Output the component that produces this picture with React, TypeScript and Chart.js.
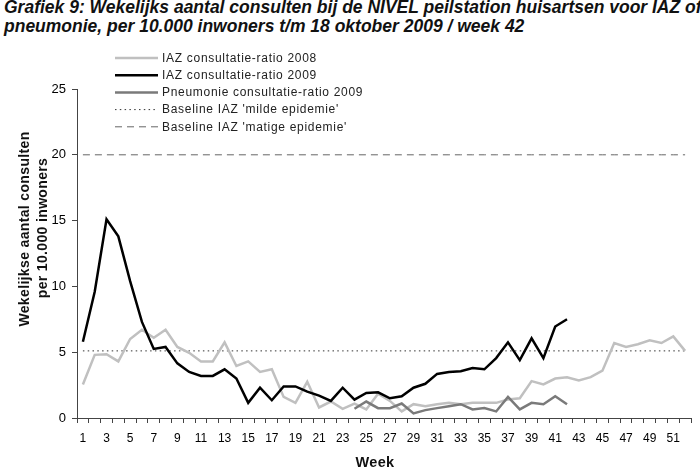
import { useEffect, useRef } from "react";
import { Chart, registerables } from "chart.js";

Chart.register(...registerables);

// weeks 1..52
const weeks = [
  "1", "2", "3", "4", "5", "6", "7", "8", "9", "10", "11", "12", "13",
  "14", "15", "16", "17", "18", "19", "20", "21", "22", "23", "24", "25", "26",
  "27", "28", "29", "30", "31", "32", "33", "34", "35", "36", "37", "38", "39",
  "40", "41", "42", "43", "44", "45", "46", "47", "48", "49", "50", "51", "52",
];

const iaz2008 = [
  2.55, 4.8, 4.85, 4.3, 6.0, 6.7, 6.1, 6.7, 5.4, 4.95, 4.3, 4.3, 5.75,
  3.95, 4.3, 3.5, 3.7, 1.6, 1.15, 2.75, 0.8, 1.25, 0.7, 1.1, 0.65, 1.85,
  1.3, 0.5, 1.05, 0.9, 1.05, 1.15, 1.05, 1.15, 1.15, 1.15, 1.4, 1.5, 2.8,
  2.55, 3.0, 3.1, 2.85, 3.1, 3.6, 5.7, 5.4, 5.6, 5.9, 5.7, 6.2, 5.1,
];

const iaz2009 = [
  5.8, 9.6, 15.1, 13.8, 10.4, 7.3, 5.25, 5.4, 4.15, 3.5, 3.2, 3.2, 3.7,
  3.0, 1.15, 2.3, 1.35, 2.4, 2.4, 2.0, 1.7, 1.3, 2.3, 1.4, 1.9, 1.95,
  1.5, 1.65, 2.3, 2.6, 3.35, 3.5, 3.55, 3.8, 3.7, 4.55, 5.75, 4.4, 6.05,
  4.55, 6.95, 7.5,
];

// pneumonie starts at week 24
const pneu2009 = [
  null, null, null, null, null, null, null, null, null, null, null, null, null,
  null, null, null, null, null, null, null, null, null, null, 0.7, 1.25, 0.75,
  0.75, 1.1, 0.35, 0.6, 0.75, 0.9, 1.05, 0.65, 0.75, 0.5, 1.6, 0.65, 1.15,
  1.05, 1.65, 1.05,
];

const baselineMild = 5.1;
const baselineMatig = 20;

const yTicks = [0, 5, 10, 15, 20, 25];

const labels = [
  "IAZ consultatie-ratio 2008",
  "IAZ consultatie-ratio 2009",
  "Pneumonie consultatie-ratio 2009",
  "Baseline IAZ 'milde epidemie'",
  "Baseline IAZ 'matige epidemie'",
];

const FONT = "'Liberation Sans', Arial, sans-serif";

// legend + axis titles drawn by hand, the original has a free-floating legend
const extras = {
  id: "extras",
  afterDraw(chart: any) {
    const ctx = chart.ctx;
    ctx.save();
    chart.data.datasets.forEach((ds: any, i: number) => {
      const y = 58 + i * 17.2;
      ctx.strokeStyle = ds.borderColor;
      ctx.lineWidth = ds.borderWidth;
      ctx.setLineDash(ds.borderDash || []);
      ctx.beginPath();
      ctx.moveTo(115, y);
      ctx.lineTo(158, y);
      ctx.stroke();
      ctx.setLineDash([]);
      ctx.fillStyle = "#222";
      ctx.font = `12px ${FONT}`;
      ctx.letterSpacing = "0.7px";
      ctx.textAlign = "left";
      ctx.textBaseline = "middle";
      ctx.fillText(ds.label, 162, y + 0.5);
    });

    ctx.fillStyle = "#111";
    ctx.font = `bold 14px ${FONT}`;
    ctx.letterSpacing = "0.35px";
    ctx.textAlign = "center";
    ctx.textBaseline = "middle";
    ctx.save();
    ctx.translate(25, 229);
    ctx.rotate(-Math.PI / 2);
    ctx.fillText("Wekelijkse aantal consulten", 0, 0);
    ctx.restore();
    ctx.save();
    ctx.translate(43.5, 228);
    ctx.rotate(-Math.PI / 2);
    ctx.fillText("per 10.000 inwoners", 0, 0);
    ctx.restore();

    ctx.letterSpacing = "0.3px";
    ctx.font = `bold 14.5px ${FONT}`;
    ctx.fillText("Week", 375, 463);
    ctx.restore();
  },
};

const TrendChart = () => {
  const canvasRef = useRef<HTMLCanvasElement>(null);

  useEffect(() => {
    if (!canvasRef.current) return;
    const line = (label: string, data: any[], color: string, width: number, order: number, dash?: number[]) => ({
      label,
      data,
      borderColor: color,
      backgroundColor: color,
      borderWidth: width,
      borderDash: dash,
      pointRadius: 0,
      tension: 0,
      fill: false,
      spanGaps: false,
      order,
    });

    const chart = new Chart(canvasRef.current, {
      type: "line",
      data: {
        labels: weeks,
        datasets: [
          line(labels[0], iaz2008, "#c0c0c0", 2.5, 2),
          line(labels[1], iaz2009, "#000000", 2.5, 0),
          line(labels[2], pneu2009, "#7a7a7a", 2.5, 1),
          line(labels[3], weeks.map(() => baselineMild), "#333333", 1, 3, [1.5, 3.3]),
          line(labels[4], weeks.map(() => baselineMatig), "#666666", 1, 4, [7, 5]),
        ],
      },
      plugins: [extras],
      options: {
        animation: false,
        responsive: false,
        maintainAspectRatio: false,
        layout: { padding: { top: 89, right: 9, left: 0, bottom: 0 } },
        plugins: {
          legend: { display: false },
          title: { display: false },
          tooltip: { enabled: false },
        },
        scales: {
          x: {
            type: "category",
            offset: true,
            afterFit: (s: any) => {
              s.height = 52;
            },
            grid: {
              offset: true,
              drawOnChartArea: false,
              drawTicks: true,
              tickLength: 5,
              color: "#444",
            },
            border: { display: true, color: "#444", width: 1 },
            ticks: {
              autoSkip: false,
              maxRotation: 0,
              padding: 8,
              color: "#000",
              font: { family: FONT, size: 12 },
              callback: (_v: any, i: number) => (i % 2 === 0 ? weeks[i] : ""),
            },
          },
          y: {
            min: 0,
            max: 25,
            afterFit: (s: any) => {
              s.width = 77;
            },
            afterBuildTicks: (s: any) => {
              s.ticks = yTicks.map((v) => ({ value: v }));
            },
            grid: {
              drawOnChartArea: false,
              drawTicks: true,
              tickLength: 5,
              color: "#444",
            },
            border: { display: true, color: "#444", width: 1 },
            ticks: {
              padding: 6,
              color: "#000",
              font: { family: FONT, size: 13 },
            },
          },
        },
      },
    });

    return () => {
      chart.destroy();
    };
  }, []);

  return (
    <div
      style={{
        position: "fixed",
        left: 0,
        top: 0,
        width: 700,
        height: 470,
        background: "#fff",
        overflow: "hidden",
      }}
    >
      <div
        style={{
          position: "absolute",
          left: 4,
          top: -2,
          width: 800,
          fontFamily: FONT,
          fontWeight: "bold",
          fontStyle: "italic",
          fontSize: 17.5,
          lineHeight: "18.5px",
          color: "#111",
          whiteSpace: "nowrap",
        }}
      >
        Grafiek 9: Wekelijks aantal consulten bij de NIVEL peilstation huisartsen voor IAZ of
        <br />
        pneumonie, per 10.000 inwoners t/m 18 oktober 2009 / week 42
      </div>
      <canvas
        ref={canvasRef}
        width={700}
        height={470}
        style={{ position: "absolute", left: 0, top: 0, width: 700, height: 470 }}
      />
    </div>
  );
};

export default function App() {
  return <TrendChart />;
}
